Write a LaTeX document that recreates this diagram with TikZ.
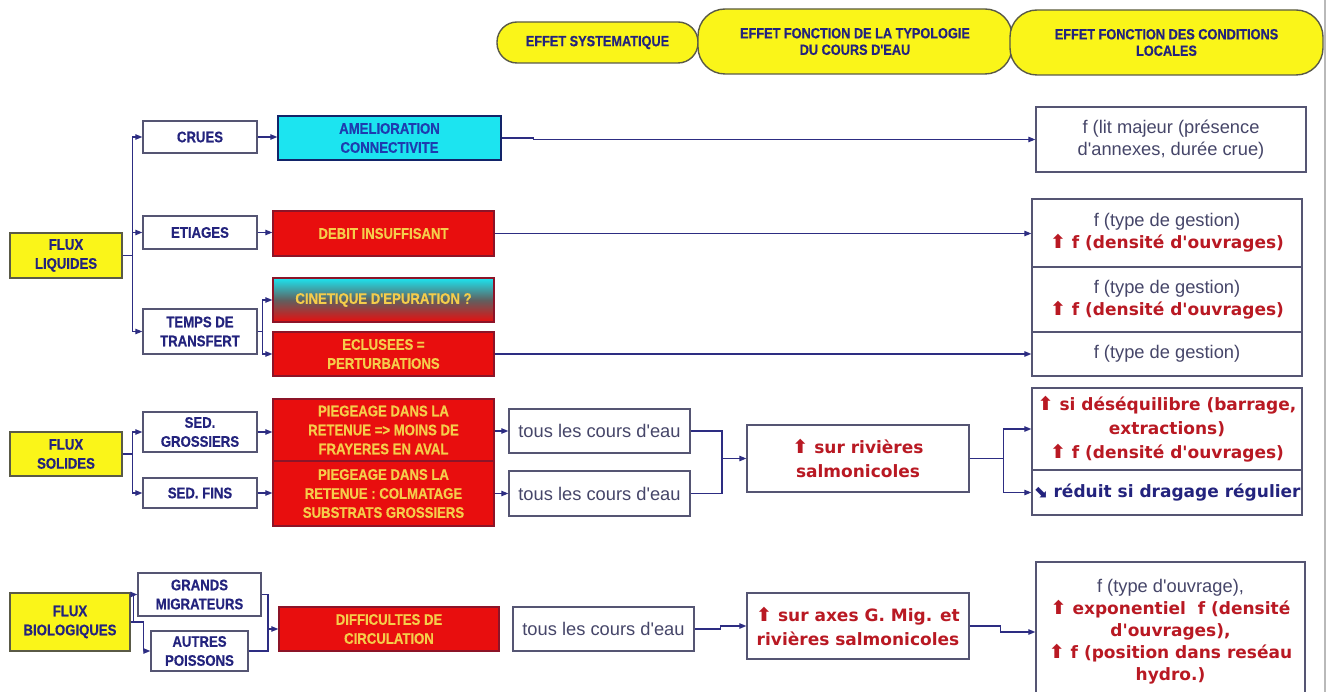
\documentclass[tikz,border=0pt]{standalone}
\usepackage{fontspec}
\setmainfont{Liberation Sans}[Ligatures=TeXOff]
\newfontfamily\narrowfont[FakeStretch=0.86, FakeBold=0.5]{Liberation Sans Bold}
\newfontfamily\verdfont{DejaVu Sans}
\usetikzlibrary{arrows.meta, calc}
\definecolor{linkblue}{RGB}{45,45,130}
\definecolor{boxline}{RGB}{85,85,115}
\definecolor{capsblue}{RGB}{35,35,125}
\definecolor{fluxyellow}{RGB}{250,245,25}
\definecolor{fluxline}{RGB}{90,90,70}
\definecolor{effred}{RGB}{232,14,14}
\definecolor{effredline}{RGB}{140,20,40}
\definecolor{effyellow}{RGB}{245,205,75}
\definecolor{effcyan}{RGB}{28,228,240}
\definecolor{cyanblue}{RGB}{30,60,175}
\definecolor{notegray}{RGB}{70,70,105}
\definecolor{redtxt}{RGB}{185,25,35}
\newcommand{\hausse}{{\verdfont\fontsize{19}{24}\selectfont ⬆}}
\newcommand{\baisse}{{\verdfont\fontsize{17}{24}\selectfont ⬊}}
\newcommand{\redbold}{\verdfont\bfseries\color{redtxt}\fontsize{17}{24}\selectfont}
\tikzset{base/.style={
    rectangle,
    draw=boxline,
    line width=1.4pt,
    inner sep=1pt,
    align=center
}}
\tikzset{header/.style={
    rectangle,
    rounded corners=27pt,
    fill=fluxyellow,
    draw=fluxline,
    line width=1.4pt,
    align=center,
    text=capsblue,
    font=\narrowfont\fontsize{14.8}{16.5}\selectfont
}}
\tikzset{flux/.style={
    base,
    fill=fluxyellow,
    draw=fluxline,
    text=capsblue,
    font=\narrowfont\fontsize{15.3}{19}\selectfont
}}
\tikzset{cat/.style={
    base,
    fill=white,
    text=capsblue,
    font=\narrowfont\fontsize{15.3}{19}\selectfont
}}
\tikzset{effet/.style={
    base,
    fill=effred,
    draw=effredline,
    text=effyellow,
    font=\narrowfont\fontsize{15.3}{19}\selectfont
}}
\tikzset{note/.style={
    base,
    fill=white,
    text=notegray,
    font=\fontsize{18.3}{22}\selectfont
}}
\tikzset{rednote/.style={
    note,
    text=redtxt,
    font=\redbold
}}

\begin{document}
\begin{tikzpicture}[
    x=1pt, y=-1pt,
    >={Triangle[length=7pt, width=5.5pt]}, line width=1.2pt, linkblue,
    text=black
]
    \useasboundingbox (0,0) rectangle (1330,692);
    \draw [gray!55, line width=1.5pt] (1325,0) -- (1325,692);
    % Column headers
    \node (hSys) [header, rounded corners=20pt, minimum width=201pt, minimum height=41pt] at (597.5,42.5) {EFFET SYSTEMATIQUE};
    \node (hTyp) [header, minimum width=314pt, minimum height=65pt] at (855,41.5) {EFFET FONCTION DE LA TYPOLOGIE\\DU COURS D'EAU};
    \node (hLoc) [header, minimum width=313pt, minimum height=65pt] at (1166.5,42.5) {EFFET FONCTION DES CONDITIONS\\LOCALES};
    % Flux liquides
    \node (fLiq) [flux, minimum width=112pt, minimum height=45pt] at (66,255.5) {FLUX\\LIQUIDES};
    \node (crues) [cat, minimum width=114pt, minimum height=32pt] at (200,137) {CRUES};
    \node (etiag) [cat, minimum width=114pt, minimum height=33pt] at (200,232.5) {ETIAGES};
    \node (temps) [cat, minimum width=114pt, minimum height=45pt] at (200,331.5) {TEMPS DE\\TRANSFERT};
    \node (amel) [effet, fill=effcyan, draw=cyanblue!60!black, text=cyanblue, minimum width=223pt, minimum height=44pt] at (389.5,138) {AMELIORATION\\CONNECTIVITE};
    \node (debit) [effet, minimum width=221pt, minimum height=45pt] at (383.5,233.5) {DEBIT INSUFFISANT};
    \node (cinet) [effet, top color=effcyan, bottom color=effred, middle color=gray!75!black, minimum width=221pt, minimum height=44pt] at (383.5,300) {CINETIQUE D'EPURATION ?};
    \node (eclus) [effet, minimum width=221pt, minimum height=44pt] at (383.5,354) {ECLUSEES =\\PERTURBATIONS};
    \node (fLit) [note, minimum width=270pt, minimum height=65pt] at (1171,139.5) {f (lit majeur (présence\\d'annexes, durée crue)};
    \node (gestA) [note, minimum width=270pt, minimum height=68pt] at (1167,233) {f (type de gestion)\\{\redbold\hausse{} f (densité d'ouvrages)}};
    \node (gestB) [note, minimum width=270pt, minimum height=65pt] at (1167,299.5) {f (type de gestion)\\{\redbold\hausse{} f (densité d'ouvrages)}};
    \node (gestC) [note, minimum width=270pt, minimum height=44pt] at (1167,354) {f (type de gestion)};
    % Flux solides
    \node (fSol) [flux, minimum width=112pt, minimum height=44pt] at (66,454) {FLUX\\SOLIDES};
    \node (sedG) [cat, minimum width=114pt, minimum height=40pt] at (200,432) {SED.\\GROSSIERS};
    \node (sedF) [cat, minimum width=114pt, minimum height=30pt] at (200,493) {SED. FINS};
    \node (piegA) [effet, minimum width=221pt, minimum height=62pt] at (383.5,430) {PIEGEAGE DANS LA\\RETENUE => MOINS DE\\FRAYERES EN AVAL};
    \node (piegB) [effet, minimum width=221pt, minimum height=65pt] at (383.5,493.5) {PIEGEAGE DANS LA\\RETENUE : COLMATAGE\\SUBSTRATS GROSSIERS};
    \node (tousA) [note, minimum width=181pt, minimum height=44pt] at (599.5,431) {tous les cours d'eau};
    \node (tousB) [note, minimum width=181pt, minimum height=45pt] at (599.5,493.5) {tous les cours d'eau};
    \node (salmo) [rednote, minimum width=222pt, minimum height=67pt] at (858,458.5) {\hausse{} sur rivières\\salmonicoles};
    \node (deseq) [rednote, minimum width=270pt, minimum height=82pt] at (1167,429) {\hausse{} si déséquilibre (barrage,\\extractions)\\\hausse{} f (densité d'ouvrages)};
    \node (dragu) [rednote, text=capsblue, minimum width=270pt, minimum height=45pt] at (1167,492.5) {\baisse{} réduit si dragage régulier};
    % Flux biologiques
    \node (fBio) [flux, minimum width=120pt, minimum height=58pt] at (70,622) {FLUX\\BIOLOGIQUES};
    \node (grands) [cat, minimum width=123pt, minimum height=43pt] at (199.5,594.5) {GRANDS\\MIGRATEURS};
    \node (autres) [cat, minimum width=97pt, minimum height=40pt] at (199.5,651) {AUTRES\\POISSONS};
    \node (diffic) [effet, minimum width=220pt, minimum height=44pt] at (389,629) {DIFFICULTES DE\\CIRCULATION};
    \node (tousC) [note, minimum width=181pt, minimum height=44pt] at (603.5,629) {tous les cours d'eau};
    \node (axes) [rednote, minimum width=222pt, minimum height=66pt] at (858,626) {\hausse{} sur axes G. Mig. et\\rivières salmonicoles};
    \node (typOuv) [note, minimum width=269pt, minimum height=140pt] at (1170.5,632) {f (type d'ouvrage),\\{\redbold\hausse{} exponentiel~~f (densité}\\{\redbold d'ouvrages),}\\{\redbold\hausse{} f (position dans reséau}\\{\redbold hydro.)}};
    % connectors
    \draw [->] (fLiq.east) -- ++(10,0) |- (crues.west);
    \draw [->] (fLiq.east) -- ++(10,0) |- (etiag.west);
    \draw [->] (fLiq.east) -- ++(10,0) |- (temps.west);
    \draw [->] (crues.east) -- (amel.west |- crues.east);
    \draw [->] (etiag.east) -- (debit.west |- etiag.east);
    \draw [->] (temps.east) -- ++(5,0) |- (cinet.west);
    \draw [->] (temps.east) -- ++(5,0) |- (eclus.west);
    \draw [->] (amel.east) -- ++(32,0) |- (fLit.west);
    \draw [->] (debit.east) -- (gestA.west |- debit.east);
    \draw [->] (eclus.east) -- (gestC.west |- eclus.east);
    \draw [->] (fSol.east) -- ++(10,0) |- (sedG.west);
    \draw [->] (fSol.east) -- ++(10,0) |- (sedF.west);
    \draw [->] (sedG.east) -- (piegA.west |- sedG.east);
    \draw [->] (sedF.east) -- (piegB.west |- sedF.east);
    \draw [->] (piegA.east |- tousA.west) -- (tousA.west);
    \draw [->] (piegB.east |- tousB.west) -- (tousB.west);
    \coordinate (jS) at (722,458.5);
    \draw (tousA.east) -| (jS) |- (tousB.east);
    \draw [->] (jS) -- (salmo.west);
    \draw [->] (salmo.east) -- ++(34,0) coordinate (jR) |- (deseq.west);
    \draw [->] (jR) |- (dragu.west);
    \draw [->] (fBio.east) -- ++(3,0) |- (grands.west);
    \draw [->] (fBio.east) -- ++(13,0) |- (autres.west);
    \coordinate (jB) at (268,629);
    \draw (grands.east) -| (jB);
    \draw (autres.east) -| (jB);
    \draw [->] (jB) -- (diffic.west);
    \draw [->] (tousC.east) -- ++(26,0) |- (axes.west);
    \draw [->] (axes.east) -- ++(31,0) |- (typOuv.west);
\end{tikzpicture}
\end{document}
